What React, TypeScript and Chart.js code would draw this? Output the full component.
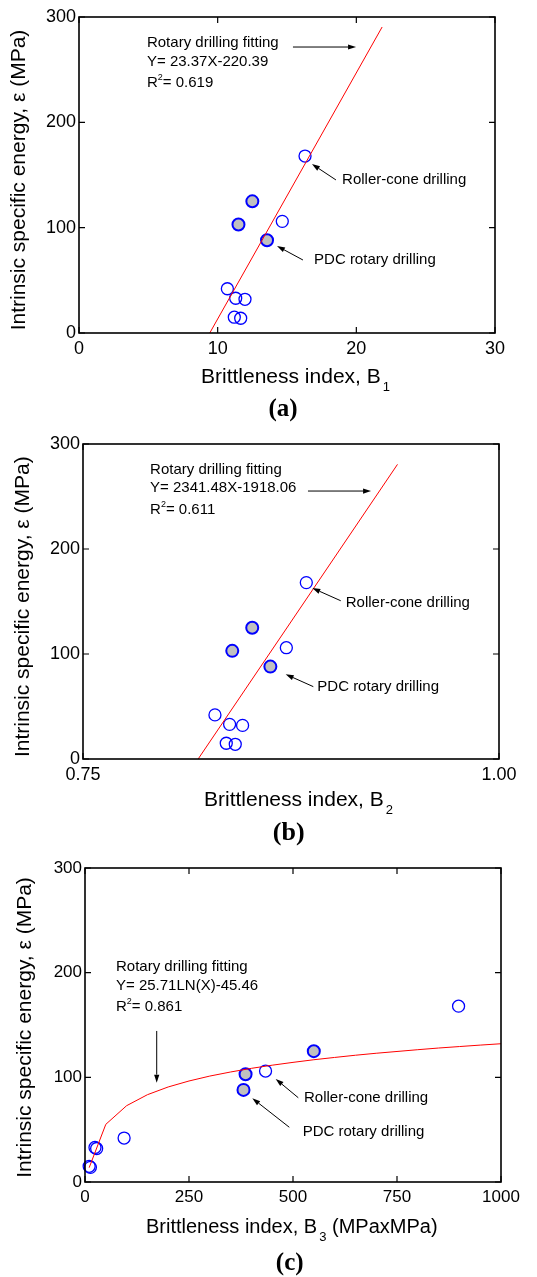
import React, { useEffect, useRef } from "react";
import { Chart, registerables } from "chart.js";

Chart.register(...registerables);

// ---------------- DATA ----------------
const energyOpen = [168, 106, 42, 33, 32, 15, 14]; // roller-cone drilling (open circles)
const energyFilled = [125, 103, 88]; // PDC rotary drilling (filled circles)

const b1Open = [16.3, 14.66, 10.7, 11.3, 11.97, 11.2, 11.66];
const b1Filled = [12.5, 11.5, 13.56];
const b2Open = [0.8842, 0.8722, 0.8293, 0.8381, 0.8459, 0.8361, 0.8415];
const b2Filled = [0.8517, 0.8397, 0.8626];
const b3Open = [898, 434, 94, 24, 28, 10, 13];
const b3Filled = [550, 386, 381];

const fitAx = [9.43, 21.86];
const fitAy = [0, 290.5];
const fitBx = [0.8192, 0.939];
const fitBy = [0, 280.6];
const fitCx = [10, 50, 100, 150, 200, 250, 300, 350, 400, 450, 500, 550, 600, 650, 700, 750, 800, 850, 900, 950, 1000];
const fitCy = [13.7, 55.1, 72.9, 83.4, 90.8, 96.5, 101.2, 105.1, 108.6, 111.6, 114.3, 116.8, 119.0, 121.1, 123.0, 124.7, 126.4, 128.0, 129.4, 130.8, 132.1];

const yTicks = [0, 100, 200, 300];
const xTicksA = [0, 10, 20, 30];
const xTicksB = [0.75, 1.0];
const xTicksC = [0, 250, 500, 750, 1000];

const Y_TITLE = "Intrinsic specific energy, \u03b5 (MPa)";
const X_TITLE = "Brittleness index, B";

// ---------------- STYLE ----------------
const FONT = "'Liberation Sans', Arial, Helvetica, sans-serif";
const SERIF = "'Liberation Serif', 'Times New Roman', serif";
const BLUE = "#0000ff";
const GRAY = "#c0c0c0";
const RED = "#ff0000";
const X_AXIS_H = 40;
const W = 537;

type Part = { t: string; sup?: boolean };
type Note = { x: number; y: number; parts: Part[] };
type Arrow = [number, number, number, number];

interface Panel {
  key: string;
  top: number;
  height: number;
  area: { left: number; right: number; top: number; bottom: number };
  xOpen: number[];
  xFilled: number[];
  fitX: number[];
  fitY: number[];
  xTicks: number[];
  xFmt: (v: number) => string;
  tickSize: number;
  titleSize: number;
  xTitle: { left: number; base: number; sub: string; after: string };
  yTitle: { x: number; cy: number };
  tag: { text: string; x: number; base: number; size: number };
  notes: Note[];
  arrows: Arrow[];
}

const panels: Panel[] = [
  {
    key: "a",
    top: 0,
    height: 425,
    area: { left: 79, right: 495, top: 17, bottom: 333 },
    xOpen: b1Open,
    xFilled: b1Filled,
    fitX: fitAx,
    fitY: fitAy,
    xTicks: xTicksA,
    xFmt: (v) => String(v),
    tickSize: 18,
    titleSize: 21,
    xTitle: { left: 201, base: 383, sub: "1", after: "" },
    yTitle: { x: 25, cy: 180 },
    tag: { text: "(a)", x: 283, base: 416, size: 25 },
    notes: [
      { x: 4.9, y: 275.3, parts: [{ t: "Rotary drilling fitting" }] },
      { x: 4.9, y: 257.6, parts: [{ t: "Y= 23.37X-220.39" }] },
      { x: 4.9, y: 237.3, parts: [{ t: "R" }, { t: "2", sup: true }, { t: "= 0.619" }] },
      { x: 18.97, y: 145.3, parts: [{ t: "Roller-cone drilling" }] },
      { x: 16.95, y: 69.3, parts: [{ t: "PDC rotary drilling" }] },
    ],
    arrows: [
      [15.43, 271.5, 19.98, 271.5],
      [18.53, 145.3, 16.8, 160.4],
      [16.15, 69.3, 14.28, 82.6],
    ],
  },
  {
    key: "b",
    top: 425,
    height: 425,
    area: { left: 83, right: 499, top: 19, bottom: 334 },
    xOpen: b2Open,
    xFilled: b2Filled,
    fitX: fitBx,
    fitY: fitBy,
    xTicks: xTicksB,
    xFmt: (v) => v.toFixed(2),
    tickSize: 18,
    titleSize: 21,
    xTitle: { left: 204, base: 381, sub: "2", after: "" },
    yTitle: { x: 28.5, cy: 181.7 },
    tag: { text: "(b)", x: 288.7, base: 415, size: 26 },
    notes: [
      { x: 0.7903, y: 275.2, parts: [{ t: "Rotary drilling fitting" }] },
      { x: 0.7903, y: 257.8, parts: [{ t: "Y= 2341.48X-1918.06" }] },
      { x: 0.7903, y: 237.1, parts: [{ t: "R" }, { t: "2", sup: true }, { t: "= 0.611" }] },
      { x: 0.9079, y: 149.1, parts: [{ t: "Roller-cone drilling" }] },
      { x: 0.8908, y: 68.9, parts: [{ t: "PDC rotary drilling" }] },
    ],
    arrows: [
      [0.8852, 255.2, 0.9231, 255.2],
      [0.9049, 150.7, 0.8878, 162.8],
      [0.8884, 68.9, 0.8718, 80.7],
    ],
  },
  {
    key: "c",
    top: 850,
    height: 427,
    area: { left: 85, right: 501, top: 18, bottom: 332 },
    xOpen: b3Open,
    xFilled: b3Filled,
    fitX: fitCx,
    fitY: fitCy,
    xTicks: xTicksC,
    xFmt: (v) => String(v),
    tickSize: 17,
    titleSize: 20,
    xTitle: { left: 146, base: 383.3, sub: "3", after: " (MPaxMPa)" },
    yTitle: { x: 30.6, cy: 177.5 },
    tag: { text: "(c)", x: 289.7, base: 420, size: 25 },
    notes: [
      { x: 74.5, y: 205.7, parts: [{ t: "Rotary drilling fitting" }] },
      { x: 74.5, y: 187.3, parts: [{ t: "Y= 25.71LN(X)-45.46" }] },
      { x: 74.5, y: 167.5, parts: [{ t: "R" }, { t: "2", sup: true }, { t: "= 0.861" }] },
      { x: 526.4, y: 80.5, parts: [{ t: "Roller-cone drilling" }] },
      { x: 523.3, y: 48.1, parts: [{ t: "PDC rotary drilling" }] },
    ],
    arrows: [
      [172.4, 144.3, 172.4, 94.9],
      [512.7, 80.5, 458.4, 98.4],
      [491.1, 52.3, 402.2, 80],
    ],
  },
];

function drawArrow(ctx: CanvasRenderingContext2D, x1: number, y1: number, x2: number, y2: number) {
  const ang = Math.atan2(y2 - y1, x2 - x1);
  const len = 8;
  const hw = 2.6;
  const bx = x2 - len * Math.cos(ang);
  const by = y2 - len * Math.sin(ang);
  ctx.beginPath();
  ctx.moveTo(x1, y1);
  ctx.lineTo(bx, by);
  ctx.stroke();
  ctx.beginPath();
  ctx.moveTo(x2, y2);
  ctx.lineTo(bx + hw * Math.sin(ang), by - hw * Math.cos(ang));
  ctx.lineTo(bx - hw * Math.sin(ang), by + hw * Math.cos(ang));
  ctx.closePath();
  ctx.fill();
}

function drawDecor(chart: any, p: Panel) {
  const ctx: CanvasRenderingContext2D = chart.ctx;
  const a = chart.chartArea;
  const xs = chart.scales.x;
  const ys = chart.scales.y;
  const X = (v: number) => xs.getPixelForValue(v);
  const Y = (v: number) => ys.getPixelForValue(v);
  ctx.save();
  // inward tick marks on all sides
  ctx.strokeStyle = "#000";
  ctx.lineWidth = 1.2;
  ctx.beginPath();
  for (const v of p.xTicks) {
    const px = X(v);
    ctx.moveTo(px, a.bottom);
    ctx.lineTo(px, a.bottom - 6);
    ctx.moveTo(px, a.top);
    ctx.lineTo(px, a.top + 6);
  }
  for (const v of yTicks) {
    const py = Y(v);
    ctx.moveTo(a.left, py);
    ctx.lineTo(a.left + 6, py);
    ctx.moveTo(a.right, py);
    ctx.lineTo(a.right - 6, py);
  }
  ctx.stroke();
  // frame
  ctx.lineWidth = 1.6;
  ctx.strokeRect(a.left, a.top, a.right - a.left, a.bottom - a.top);

  // notes
  ctx.fillStyle = "#000";
  ctx.textAlign = "left";
  ctx.textBaseline = "middle";
  for (const n of p.notes) {
    let x = X(n.x);
    const y = Y(n.y);
    for (const part of n.parts) {
      if (part.sup) {
        ctx.font = `9px ${FONT}`;
        ctx.fillText(part.t, x, y - 5.5);
      } else {
        ctx.font = `15px ${FONT}`;
        ctx.fillText(part.t, x, y);
      }
      x += ctx.measureText(part.t).width;
    }
  }
  // arrows
  ctx.lineWidth = 1;
  ctx.strokeStyle = "#000";
  for (const [x1, y1, x2, y2] of p.arrows) {
    drawArrow(ctx, X(x1), Y(y1), X(x2), Y(y2));
  }

  // x axis title with subscript
  ctx.textBaseline = "alphabetic";
  ctx.textAlign = "left";
  ctx.font = `${p.titleSize}px ${FONT}`;
  ctx.fillText(X_TITLE, p.xTitle.left, p.xTitle.base);
  let xx = p.xTitle.left + ctx.measureText(X_TITLE).width + 2;
  ctx.font = `13px ${FONT}`;
  ctx.fillText(p.xTitle.sub, xx, p.xTitle.base + 8);
  xx += ctx.measureText(p.xTitle.sub).width;
  if (p.xTitle.after) {
    ctx.font = `${p.titleSize}px ${FONT}`;
    ctx.fillText(p.xTitle.after, xx, p.xTitle.base);
  }

  // y axis title
  ctx.save();
  ctx.translate(p.yTitle.x, p.yTitle.cy);
  ctx.rotate(-Math.PI / 2);
  ctx.textAlign = "center";
  ctx.font = `21px ${FONT}`;
  ctx.fillText(Y_TITLE, 0, 0);
  ctx.restore();

  // panel tag
  ctx.textAlign = "center";
  ctx.font = `bold ${p.tag.size}px ${SERIF}`;
  ctx.fillText(p.tag.text, p.tag.x, p.tag.base);
  ctx.restore();
}

function PanelChart({ p }: { p: Panel }) {
  const ref = useRef<HTMLCanvasElement>(null);
  useEffect(() => {
    const canvas = ref.current!;
    const chart = new Chart(canvas, {
      type: "scatter",
      data: {
        datasets: [
          {
            data: p.fitX.map((x, i) => ({ x, y: p.fitY[i] })),
            showLine: true,
            borderColor: RED,
            borderWidth: 1,
            pointRadius: 0,
            fill: false,
          },
          {
            data: p.xOpen.map((x, i) => ({ x, y: energyOpen[i] })),
            pointRadius: 6,
            borderColor: BLUE,
            borderWidth: 1.3,
            backgroundColor: "rgba(0,0,0,0)",
            clip: false,
          },
          {
            data: p.xFilled.map((x, i) => ({ x, y: energyFilled[i] })),
            pointRadius: 6,
            borderColor: BLUE,
            borderWidth: 2,
            backgroundColor: GRAY,
            clip: false,
          },
        ],
      } as any,
      options: {
        responsive: false,
        maintainAspectRatio: false,
        animation: false,
        devicePixelRatio: 1,
        events: [],
        layout: {
          padding: {
            left: 0,
            top: p.area.top,
            right: W - p.area.right,
            bottom: p.height - p.area.bottom - X_AXIS_H,
          },
        },
        plugins: { legend: { display: false }, tooltip: { enabled: false } },
        scales: {
          x: {
            type: "linear",
            min: p.xTicks[0],
            max: p.xTicks[p.xTicks.length - 1],
            afterBuildTicks: (s: any) => {
              s.ticks = p.xTicks.map((v) => ({ value: v }));
            },
            afterFit: (s: any) => {
              s.height = X_AXIS_H;
            },
            grid: { display: false, drawTicks: false },
            border: { display: false },
            ticks: {
              autoSkip: false,
              maxRotation: 0,
              padding: 5,
              color: "#000",
              font: { family: FONT, size: p.tickSize },
              callback: (v: any) => p.xFmt(Number(v)),
            },
          },
          y: {
            type: "linear",
            min: 0,
            max: 300,
            afterBuildTicks: (s: any) => {
              s.ticks = yTicks.map((v) => ({ value: v }));
            },
            afterFit: (s: any) => {
              s.width = p.area.left;
            },
            grid: { display: false, drawTicks: false },
            border: { display: false },
            ticks: {
              padding: 3,
              color: "#000",
              font: { family: FONT, size: p.tickSize },
              callback: (v: any) => String(v),
            },
          },
        },
      } as any,
      plugins: [
        {
          id: "decor" + p.key,
          afterDraw: (c: any) => drawDecor(c, p),
        },
      ],
    });
    return () => chart.destroy();
  }, [p]);
  return (
    <canvas
      ref={ref}
      width={W}
      height={p.height}
      style={{ position: "absolute", left: 0, top: p.top, width: W, height: p.height, display: "block" }}
    />
  );
}

export default function App() {
  return (
    <div style={{ position: "absolute", left: 0, top: 0, width: W, height: 1277, background: "#fff" }}>
      {panels.map((p) => (
        <PanelChart key={p.key} p={p} />
      ))}
    </div>
  );
}
